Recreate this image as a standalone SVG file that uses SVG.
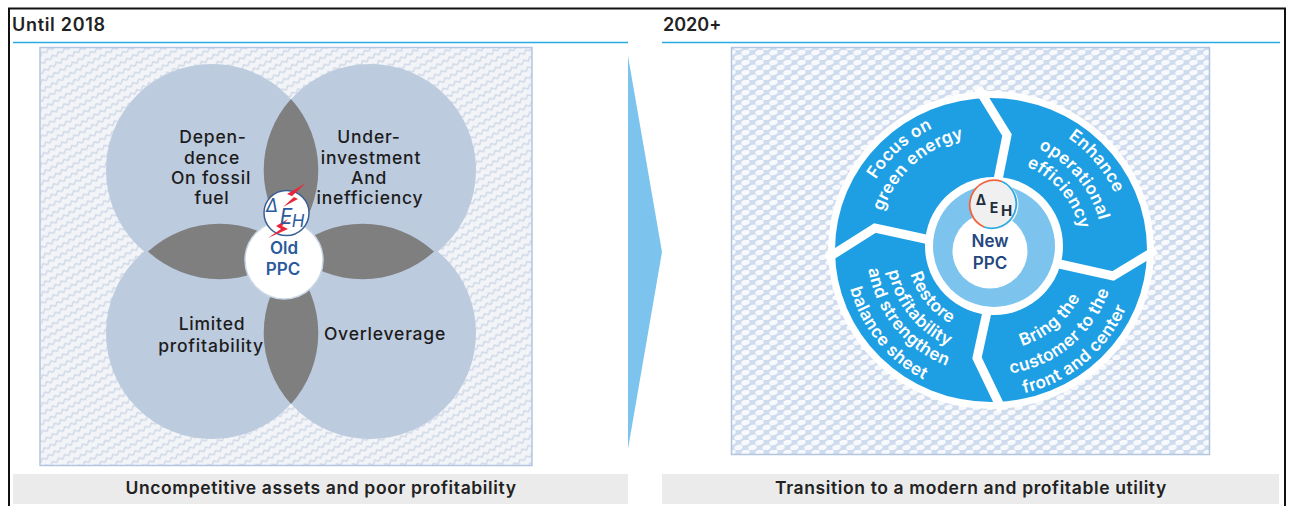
<svg xmlns="http://www.w3.org/2000/svg" width="1289" height="506" viewBox="0 0 1289 506">
<style>
text{font-family:"Inter","Liberation Sans",sans-serif}
.head{font-size:18px;font-weight:600;fill:#222}
.bar{fill:#ebebeb}
.foot{font-size:17.500px;font-weight:600;fill:#222;text-anchor:middle;letter-spacing:.62px}
.rule{stroke:#29abe2;stroke-width:1.6;fill:none}
.lobe{fill:#bccbde}
.lens{fill:#7f7f7f}
.lab{font-size:17.500px;font-weight:500;fill:#1c1c1c;text-anchor:middle;letter-spacing:.8px}
.ppc{font-size:17px;font-weight:600;fill:#2a5a9c;text-anchor:middle}
.wh{font-size:17px;font-weight:600;fill:#fff;text-anchor:middle;letter-spacing:.4px}
.sep{fill:none;stroke:#fff;stroke-width:9;stroke-linejoin:miter}
</style>
<defs>
<pattern id="zig" width="14" height="8" patternUnits="userSpaceOnUse" patternTransform="rotate(-30)">
<rect width="14" height="8" fill="#f2f4f8"/>
<path d="M0 5 L3.500 2 L7 5 L10.500 2 L14 5" fill="none" stroke="#cfd8e6" stroke-width="1.400"/>
</pattern>
<pattern id="dots" width="14" height="10" patternUnits="userSpaceOnUse">
<rect width="14" height="10" fill="#cfdcee"/>
<g fill="#f7f9fd">
<ellipse cx="3.500" cy="2.500" rx="4.300" ry="2.700" transform="rotate(-15 3.500 2.500)"/>
<ellipse cx="10.500" cy="7.500" rx="4.300" ry="2.700" transform="rotate(-15 10.500 7.500)"/>
<ellipse cx="-3.500" cy="7.500" rx="4.300" ry="2.700" transform="rotate(-15 -3.500 7.500)"/>
<ellipse cx="17.500" cy="2.500" rx="4.300" ry="2.700" transform="rotate(-15 17.500 2.500)"/>
</g>
</pattern>
<path id="t1" d="M859 278.1A135 135 0 0 1 1032.7 121.6"/>
<path id="t2" d="M878.500 273.900A115 115 0 0 1 1026.500 140.600"/>
<path id="t3" d="M967.400 116A136 136 0 0 1 1118.800 296.500"/>
<path id="t4" d="M971.500 139.700A112 112 0 0 1 1096.300 288.300"/>
<path id="t5" d="M975.200 160.400A91 91 0 0 1 1076.500 281.100"/>
<path id="t6" d="M956.5 344.9A101 101 0 0 0 1090.5 232.4"/>
<path id="t7" d="M948.3 367.5A125 125 0 0 0 1114.1 228.2"/>
<path id="t8" d="M940.7 388.2A147 147 0 0 0 1135.8 224.4"/>
<path id="t9" d="M912.500 219.900A84 84 0 0 0 1004.100 333"/>
<path id="t10" d="M892.900 212.400A105 105 0 0 0 1007.400 353.700"/>
<path id="t11" d="M875.200 205.600A124 124 0 0 0 1010.300 372.500"/>
<path id="t12" d="M854.600 197.700A146 146 0 0 0 1013.800 394.200"/>
</defs>
<rect width="1289" height="506" fill="#fff"/>
<path id="frame" d="M9 506V8.500H1285V506" fill="none" stroke="#111" stroke-width="2"/>
<g id="panel-left">
<text class="head" x="12" y="31" style="letter-spacing:.7px">Until 2018</text>
<path class="rule" d="M13 42.500H628"/>
<rect x="40" y="47.500" width="492" height="418" fill="url(#zig)" stroke="#b3c6df" stroke-width="1.500"/>
<rect class="bar" x="13" y="474" width="615" height="30"/>
<text class="foot" x="321" y="494">Uncompetitive assets and poor profitability</text>
</g>
<g id="panel-right">
<text class="head" x="663" y="31">2020+</text>
<path class="rule" d="M662 42.500H1280"/>
<rect x="731.500" y="47.500" width="478" height="407" fill="url(#dots)" stroke="#b3c6df" stroke-width="1.500"/>
<rect class="bar" x="662" y="474" width="617" height="30"/>
<text class="foot" x="971" y="494">Transition to a modern and profitable utility</text>
</g>
<g id="connectors">
<path id="transition-arrow" d="M628 56L662 252L628 449Z" fill="#7cc4ee"/>
</g>
<g id="old-ppc">
<g id="lobes">
<circle class="lobe" cx="212" cy="170" r="106"/>
<circle class="lobe" cx="370" cy="170" r="106"/>
<circle class="lobe" cx="212" cy="333" r="106"/>
<circle class="lobe" cx="370" cy="333" r="106"/>
</g>
<g id="lenses">
<path class="lens" d="M291 99A106 106 0 0 1 291 241A106 106 0 0 1 291 99Z"/>
<path class="lens" d="M291 262A106 106 0 0 1 291 404A106 106 0 0 1 291 262Z"/>
<path class="lens" d="M148 251.500A106 106 0 0 1 291 251.500A106 106 0 0 1 148 251.500Z"/>
<path class="lens" d="M291 251.500A106 106 0 0 1 434 251.500A106 106 0 0 1 291 251.500Z"/>
</g>
<g id="lab-dep"><text class="lab" x="213" y="143">Depen-</text><text class="lab" x="212" y="164">dence</text><text class="lab" x="211" y="184">On fossil</text><text class="lab" x="212" y="204">fuel</text></g>
<g id="lab-under"><text class="lab" x="369" y="143">Under-</text><text class="lab" x="371" y="164">investment</text><text class="lab" x="369" y="184">And</text><text class="lab" x="370" y="204">inefficiency</text></g>
<g id="lab-lim"><text class="lab" x="212" y="330">Limited</text><text class="lab" x="211" y="352">profitability</text></g>
<g id="lab-over"><text class="lab" x="385" y="340">Overleverage</text></g>
<g id="old-center">
<circle cx="284" cy="260" r="39" fill="#fff" stroke="#c9d6e6" stroke-width="1.500"/>
<text class="ppc" x="284" y="254">Old</text>
<text class="ppc" x="283" y="275">PPC</text>
</g>
<g id="old-logo">
<circle cx="286.500" cy="213" r="22.500" fill="#fff" stroke="#3a5f96" stroke-width="1.500"/>
<path d="M306 183L287 194L294 197L283 207L298 199L292 196Z" fill="#e8283a"/>
<path d="M288 219L276 226L281 229L268 238L288 229L282 226Z" fill="#e8283a"/>
<text x="272" y="212" font-size="18" font-style="italic" fill="#2a5a9c" text-anchor="middle">Δ</text>
<text x="286" y="224" font-size="21" font-style="italic" fill="#2a5a9c" text-anchor="middle">Ε</text>
<text x="298" y="227" font-size="17" font-style="italic" fill="#2a5a9c" text-anchor="middle">Η</text>
</g>
</g>
<g id="new-ppc">
<ellipse cx="991" cy="250" rx="163" ry="159" fill="#fff"/>
<ellipse cx="991" cy="250" rx="156" ry="152" fill="#1f9fe3"/>
<g id="separators">
<path class="sep" d="M978 88L1007 135L997 185"/>
<path class="sep" d="M1156 250L1113 276L1055 263"/>
<path class="sep" d="M1002 410L977 358L987 312"/>
<path class="sep" d="M826 259L875 228L930 240"/>
</g>
<circle cx="994" cy="246" r="69" fill="#fff"/>
<circle cx="994" cy="246" r="61" fill="#7cc4ee"/>
<g id="seg-green"><text class="wh"><textPath href="#t1" startOffset="50%">Focus on</textPath></text><text class="wh"><textPath href="#t2" startOffset="50%">green energy</textPath></text></g>
<g id="seg-ops"><text class="wh"><textPath href="#t3" startOffset="50%">Enhance</textPath></text><text class="wh"><textPath href="#t4" startOffset="50%">operational</textPath></text><text class="wh"><textPath href="#t5" startOffset="50%">efficiency</textPath></text></g>
<g id="seg-cust"><text class="wh"><textPath href="#t6" startOffset="50%">Bring the</textPath></text><text class="wh"><textPath href="#t7" startOffset="50%">customer to the</textPath></text><text class="wh"><textPath href="#t8" startOffset="50%">front and center</textPath></text></g>
<g id="seg-profit"><text class="wh"><textPath href="#t9" startOffset="50%">Restore</textPath></text><text class="wh"><textPath href="#t10" startOffset="50%">profitability</textPath></text><text class="wh"><textPath href="#t11" startOffset="50%">and strengthen</textPath></text><text class="wh"><textPath href="#t12" startOffset="50%">balance sheet</textPath></text></g>
<g id="new-center">
<circle cx="990" cy="251" r="37.500" fill="#fff"/>
<text class="ppc" x="990" y="247" style="fill:#24477e">New</text>
<text class="ppc" x="990" y="269" style="fill:#24477e">PPC</text>
</g>
<g id="new-logo">
<circle cx="994" cy="204.500" r="24.500" fill="#f0f0f0"/>
<path d="M1002 181.500A24.500 24.500 0 0 1 984 227" fill="none" stroke="#29abe2" stroke-width="1.800"/>
<path d="M984 227A24.500 24.500 0 0 1 1002 181.500" fill="none" stroke="#f0633f" stroke-width="1.800"/>
<text x="981" y="205" font-size="14" font-weight="700" fill="#222d3a" text-anchor="middle">Δ</text>
<text x="994" y="213" font-size="14" font-weight="700" fill="#222d3a" text-anchor="middle">Ε</text>
<text x="1006.500" y="216" font-size="15" font-weight="700" fill="#222d3a" text-anchor="middle">Η</text>
</g>
</g>
</svg>
